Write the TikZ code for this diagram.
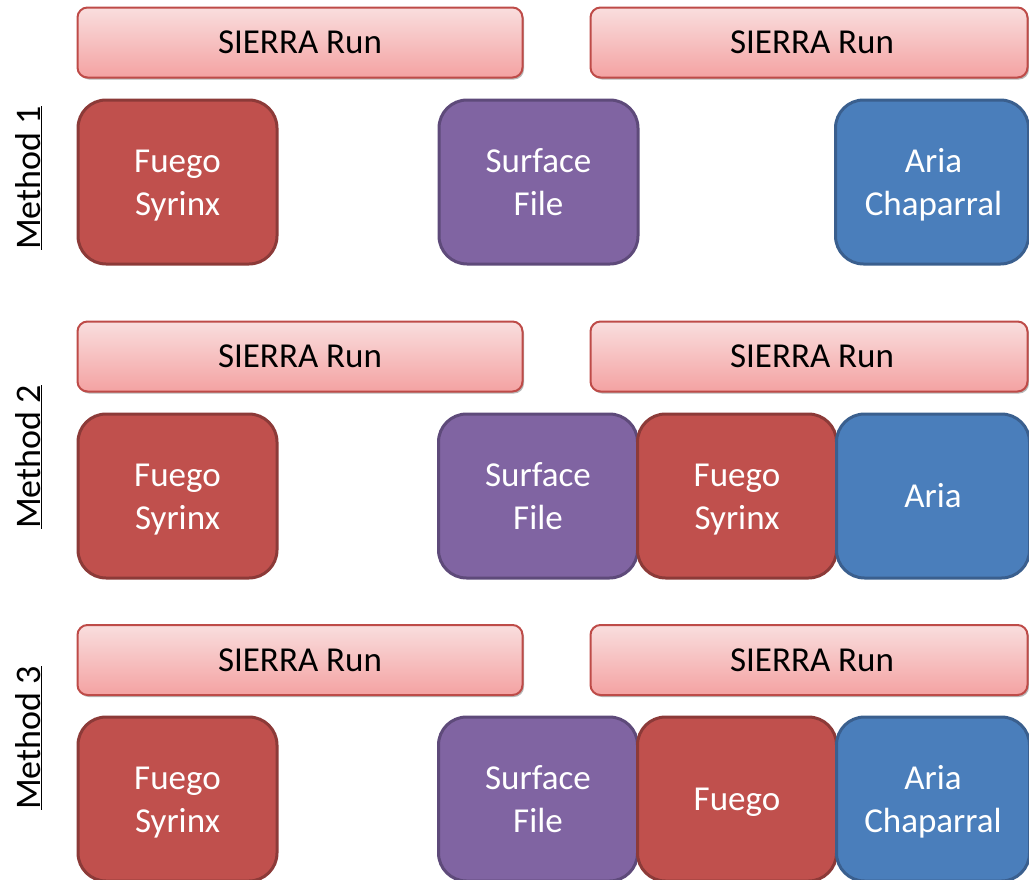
\documentclass[tikz,border=0pt]{standalone}
\usepackage{fontspec}
\setmainfont{Carlito}
\usetikzlibrary{shadows}
\definecolor{redfill}{HTML}{C0504D}
\definecolor{redline}{HTML}{8C3A38}
\definecolor{purfill}{HTML}{8064A2}
\definecolor{purline}{HTML}{5E4A7A}
\definecolor{blufill}{HTML}{4A7EBB}
\definecolor{bluline}{HTML}{3A5F8E}
\definecolor{bartop}{HTML}{F9DEDE}
\definecolor{barbot}{HTML}{F4A2A2}
\definecolor{barline}{HTML}{BE4B48}
\newcommand{\ls}{\rule[-7pt]{0pt}{37pt}}
\tikzset{
  bigtext/.style={font=\fontsize{35}{43}\selectfont},
  barbox/.style={draw=barline, line width=2pt, rounded corners=10pt,
    top color=bartop, bottom color=barbot, minimum height=70pt,
    inner sep=0pt, outer sep=0pt, bigtext, text=black,
    drop shadow={shadow xshift=1.5pt, shadow yshift=-2pt, fill=gray!70, opacity=0.8}},
  block/.style={rounded corners=28pt, line width=3pt, minimum height=164pt,
    minimum width=199pt, inner sep=0pt, outer sep=0pt, align=center,
    text=white, bigtext},
  redblock/.style={block, fill=redfill, draw=redline},
  purblock/.style={block, fill=purfill, draw=purline},
  blublock/.style={block, fill=blufill, draw=bluline},
  methodlabel/.style={rotate=90, anchor=base, font=\fontsize{36}{42}\selectfont, text=black}
}
\begin{document}
\begin{tikzpicture}[x=1pt,y=-1pt]
\useasboundingbox (0,0) rectangle (1029,879);
\clip (0,0) rectangle (1029,879);
% Row 1
\node[barbox, minimum width=445pt] (b1l) at (300,42.5) {SIERRA Run};
\node[barbox, minimum width=437pt] (b1r) at (809,42.5) {\hspace*{6pt}SIERRA Run};
\node[redblock] (r1a) at (177.5,182) {\ls Fuego\\\ls Syrinx};
\node[purblock] (r1b) at (538.5,182) {\ls Surface\\\ls File};
\node[blublock, minimum width=193pt] (r1c) at (932,182) {\ls\hspace*{3pt}Aria\\\ls\hspace*{3pt}Chaparral};
% Row 2
\node[barbox, minimum width=445pt] (b2l) at (300,356.5) {SIERRA Run};
\node[barbox, minimum width=437pt] (b2r) at (809,356.5) {\hspace*{6pt}SIERRA Run};
\node[redblock] (r2a) at (177.5,496) {\ls Fuego\\\ls Syrinx};
\node[purblock] (r2b) at (538,496) {\ls Surface\\\ls File};
\node[redblock] (r2c) at (737,496) {\ls Fuego\\\ls Syrinx};
\node[blublock, minimum width=193pt] (r2d) at (933,496) {\ls Aria};
% Row 3
\node[barbox, minimum width=445pt] (b3l) at (300,660) {SIERRA Run};
\node[barbox, minimum width=437pt] (b3r) at (809,660) {\hspace*{6pt}SIERRA Run};
\node[redblock] (r3a) at (177.5,799) {\ls Fuego\\\ls Syrinx};
\node[purblock] (r3b) at (538,799) {\ls Surface\\\ls File};
\node[redblock] (r3c) at (737,799) {\ls Fuego};
\node[blublock, minimum width=193pt] (r3d) at (933,799) {\ls Aria\\\ls Chaparral};
% Method labels
\node[methodlabel] (m1) at (40,178) {\underline{Method 1}};
\node[methodlabel] (m2) at (40,457) {\underline{Method 2}};
\node[methodlabel] (m3) at (40,738) {\underline{Method 3}};
\end{tikzpicture}
\end{document}
